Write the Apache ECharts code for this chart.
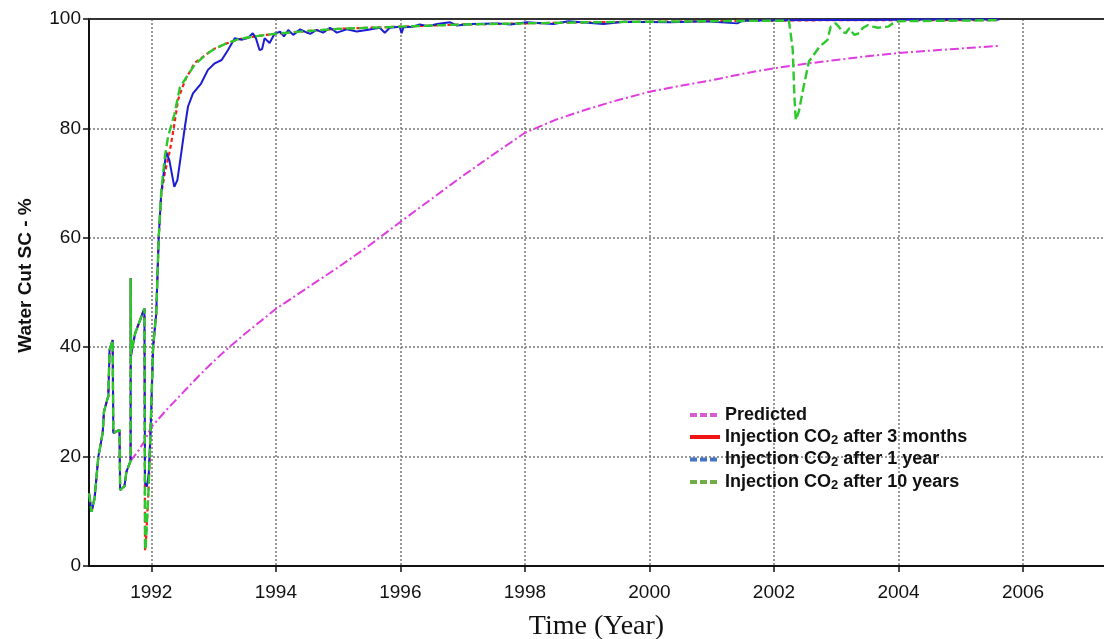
<!DOCTYPE html>
<html>
<head>
<meta charset="utf-8">
<script src="https://cdn.jsdelivr.net/npm/echarts@6/dist/echarts.min.js"></script>
<style>
html,body{margin:0;padding:0;background:#fff;}
#chart{width:1104px;height:639px;}
</style>
</head>
<body>
<div id="chart"></div>
<script>
// ---- data ----
const tickYears = [1992, 1994, 1996, 1998, 2000, 2002, 2004, 2006];

// shared history part (1991 - late 1991)
const earlyYears = [1991.0, 1991.04, 1991.09, 1991.15, 1991.22, 1991.24, 1991.29, 1991.31, 1991.33, 1991.38, 1991.39, 1991.49, 1991.50, 1991.57, 1991.60, 1991.668, 1991.67, 1991.675, 1991.69, 1991.74, 1991.89];
const earlyCut   = [13.3, 9.9, 12.4, 20.0, 24.3, 28.2, 30.3, 31.0, 39.5, 41.3, 24.3, 24.9, 13.9, 14.6, 17.2, 19.2, 52.6, 38.6, 39.5, 42.5, 47.1];

// Injection CO2 after 10 years (green)
const greenYears = [1991.90, 1991.91, 1991.956, 1991.97, 1992.03, 1992.08, 1992.12, 1992.16, 1992.22, 1992.27, 1992.37, 1992.46, 1992.59, 1992.70, 1992.88, 1993.02, 1993.20, 1993.40, 1993.60, 1993.85, 1994.0, 1994.5, 1995.0, 1995.5, 1996.0, 1996.5, 1997.0, 1998.0, 1999.0, 2000.0, 2001.0, 2002.24, 2002.30, 2002.33, 2002.35, 2002.40, 2002.46, 2002.56, 2002.73, 2002.86, 2002.91, 2002.99, 2003.04, 2003.10, 2003.15, 2003.21, 2003.29, 2003.37, 2003.42, 2003.51, 2003.59, 2003.67, 2003.83, 2003.91, 2004.01, 2005.0, 2005.62];
const greenCut   = [2.9, 3.5, 13.9, 18.2, 40.1, 46.2, 60.2, 68.5, 75.0, 78.5, 82.5, 87.5, 89.8, 91.7, 93.5, 94.6, 95.5, 96.3, 96.7, 97.1, 97.3, 97.8, 98.2, 98.4, 98.6, 98.8, 99.0, 99.2, 99.4, 99.5, 99.6, 99.7, 94.6, 85.5, 81.5, 83.1, 86.7, 92.2, 94.9, 96.2, 98.6, 99.2, 98.6, 97.7, 97.4, 98.3, 97.1, 97.4, 98.3, 98.9, 98.6, 98.4, 98.6, 99.2, 99.6, 99.7, 99.8];

// Injection CO2 after 1 year (blue)
const blueYears = [1991.90, 1991.93, 1991.96, 1991.99, 1992.03, 1992.08, 1992.12, 1992.16, 1992.24, 1992.29, 1992.37, 1992.42, 1992.48, 1992.54, 1992.59, 1992.67, 1992.80, 1992.91, 1993.02, 1993.13, 1993.23, 1993.34, 1993.45, 1993.55, 1993.63, 1993.68, 1993.74, 1993.78, 1993.82, 1993.90, 1993.98, 1994.07, 1994.13, 1994.20, 1994.28, 1994.39, 1994.50, 1994.56, 1994.65, 1994.76, 1994.87, 1994.98, 1995.14, 1995.30, 1995.46, 1995.67, 1995.75, 1995.83, 1995.99, 1996.02, 1996.05, 1996.20, 1996.31, 1996.45, 1996.59, 1996.80, 1996.91, 1997.12, 1997.55, 1997.77, 1998.03, 1998.46, 1998.70, 1999.26, 1999.60, 2000.34, 2000.90, 2001.41, 2001.50, 2002.50, 2003.50, 2004.50, 2005.62];
const blueCut   = [15.2, 14.5, 17.0, 25.0, 40.1, 46.2, 60.2, 68.1, 75.7, 74.2, 69.3, 70.6, 75.4, 80.3, 84.0, 86.4, 88.2, 90.7, 91.9, 92.5, 94.3, 96.5, 96.2, 96.5, 97.4, 96.5, 94.3, 94.5, 96.5, 95.6, 97.3, 97.7, 96.8, 98.0, 97.1, 98.1, 97.5, 97.3, 98.0, 97.5, 98.4, 97.5, 98.1, 97.7, 98.0, 98.4, 97.5, 98.4, 98.6, 97.4, 98.5, 98.6, 99.0, 98.7, 99.1, 99.4, 98.8, 99.1, 99.2, 99.0, 99.4, 99.1, 99.6, 99.1, 99.5, 99.4, 99.6, 99.2, 99.7, 99.8, 99.8, 99.9, 99.9];

// Injection CO2 after 3 months (red)
const redYears = [1991.90, 1991.91, 1991.956, 1991.97, 1992.03, 1992.08, 1992.12, 1992.16, 1992.22, 1992.30, 1992.36, 1992.43, 1992.50, 1992.56, 1992.70, 1992.88, 1993.02, 1993.20, 1993.40, 1993.60, 1993.85, 1994.0, 1994.5, 1995.0, 1995.5, 1996.0, 1996.5, 1997.0, 1998.0, 1999.0, 2000.0, 2001.0, 2002.0, 2003.0, 2004.0, 2005.0, 2005.62];
const redCut   = [2.9, 3.5, 13.9, 18.2, 40.1, 46.2, 60.2, 68.0, 72.0, 76.0, 80.0, 85.2, 87.5, 89.2, 92.0, 93.5, 94.6, 95.5, 96.3, 96.7, 97.1, 97.3, 97.8, 98.2, 98.4, 98.6, 98.8, 99.0, 99.2, 99.4, 99.5, 99.6, 99.7, 99.8, 99.8, 99.8, 99.8];

// Predicted (magenta)
const predYears = [1991.668, 1991.80, 1991.90, 1992.0, 1992.25, 1992.5, 1992.75, 1993.0, 1993.25, 1993.5, 1994.0, 1994.5, 1995.0, 1995.5, 1996.0, 1996.5, 1997.0, 1997.5, 1998.0, 1998.5, 1999.0, 1999.5, 2000.0, 2000.5, 2001.0, 2001.5, 2002.0, 2002.5, 2003.0, 2003.5, 2004.0, 2004.5, 2005.0, 2005.62];
const predCut   = [19.2, 21.2, 23.0, 25.4, 28.6, 31.6, 34.6, 37.4, 40.0, 42.4, 47.0, 50.8, 54.6, 58.6, 62.9, 67.1, 71.3, 75.3, 79.2, 81.6, 83.5, 85.2, 86.7, 87.8, 88.8, 90.0, 91.0, 91.8, 92.5, 93.2, 93.8, 94.2, 94.6, 95.1];

const legendNames = ['Predicted', 'Injection CO2 after 3 months', 'Injection CO2 after 1 year', 'Injection CO2 after 10 years'];

// ---- build ----
const zip = (xs, ys) => xs.map((x, i) => [x, ys[i]]);
const early = zip(earlyYears, earlyCut);

const chart = echarts.init(document.getElementById('chart'), null, {renderer: 'canvas'});

const legendSeries = [
  {color: '#d65cd2', type: [7, 3]},
  {color: '#f01414', type: 'solid'},
  {color: '#4472c4', type: [7, 3]},
  {color: '#70ad47', type: [7, 3]}
].map((s, i) => ({
  name: legendNames[i], type: 'line', data: [], symbol: 'none',
  color: s.color, lineStyle: {color: s.color, width: 4, type: s.type}
}));

const fontSans = 'Liberation Sans, Arial, sans-serif';

const option = {
  animation: false,
  backgroundColor: '#fff',
  grid: {left: 89, right: 0, top: 19, bottom: 73, show: false, outerBoundsMode: 'none', containLabel: false},
  legend: {
    data: legendNames,
    orient: 'vertical',
    left: 683,
    top: 401,
    itemWidth: 30,
    itemHeight: 12,
    itemGap: 4,
    selectedMode: false,
    itemStyle: {opacity: 0, color: 'rgba(0,0,0,0)', borderWidth: 0},
    lineStyle: {width: 4},
    textStyle: {
      fontFamily: fontSans,
      fontSize: 18,
      fontWeight: 'bold',
      color: '#111',
      rich: {
        s: {fontSize: 13, fontWeight: 'bold', fontFamily: fontSans, color: '#111', padding: [6, 0, 0, 0]}
      }
    },
    formatter: n => n.replace('CO2', 'CO{s|2}')
  },
  xAxis: [{
    type: 'value',
    min: 1991,
    max: 2007.3,
    name: 'Time (Year)',
    nameLocation: 'middle',
    nameGap: 47,
    nameTextStyle: {fontFamily: 'Liberation Serif, Times New Roman, serif', fontSize: 28, color: '#111'},
    axisLine: {show: true, onZero: false, lineStyle: {color: '#111', width: 2}},
    axisTick: {show: true, length: 6, customValues: tickYears, lineStyle: {color: '#111', width: 1.5}},
    axisLabel: {customValues: tickYears, margin: 17, fontSize: 19, color: '#111',
      fontFamily: fontSans, formatter: v => String(v)},
    splitLine: {show: true, lineStyle: {color: '#777', width: 1.5, type: [2, 2]}}
  }, {
    type: 'value',
    position: 'top',
    min: 1991,
    max: 2007.3,
    axisLine: {show: true, onZero: false, lineStyle: {color: '#333', width: 2}},
    axisTick: {show: false},
    axisLabel: {show: false},
    splitLine: {show: false}
  }],
  yAxis: {
    type: 'value',
    min: 0,
    max: 100,
    interval: 20,
    name: 'Water Cut SC - %',
    nameLocation: 'middle',
    nameGap: 54,
    nameRotate: 90,
    nameTextStyle: {fontFamily: fontSans, fontSize: 19, fontWeight: 'bold', color: '#111', padding: [0, 0, 0, 34]},
    axisLine: {show: true, lineStyle: {color: '#111', width: 2}},
    axisTick: {show: true, length: 6, lineStyle: {color: '#111', width: 1.5}},
    axisLabel: {margin: 8, fontSize: 19, color: '#111', fontFamily: fontSans},
    splitLine: {show: true, lineStyle: {color: '#777', width: 1.5, type: [2, 2]}}
  },
  series: [
    {
      name: 'pred', type: 'line', symbol: 'none', silent: true, z: 3,
      data: zip(predYears, predCut),
      lineStyle: {color: '#e03ce0', width: 2, type: [9, 3, 2, 3]}
    },
    {
      name: 'red', type: 'line', symbol: 'none', silent: true, z: 4,
      data: early.concat(zip(redYears, redCut)),
      lineStyle: {color: '#ff1a1a', width: 2.2, type: [4, 3]}
    },
    {
      name: 'blue', type: 'line', symbol: 'none', silent: true, z: 5,
      data: early.concat(zip(blueYears, blueCut)),
      lineStyle: {color: '#1c1cd2', width: 2}
    },
    {
      name: 'green', type: 'line', symbol: 'none', silent: true, z: 6,
      data: early.concat(zip(greenYears, greenCut)),
      lineStyle: {color: '#2cc82c', width: 2.4, type: [9, 4]}
    }
  ].concat(legendSeries)
};

chart.setOption(option);
</script>
</body>
</html>
